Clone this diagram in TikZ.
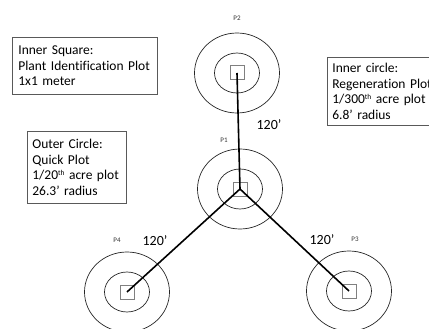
\documentclass[tikz,border=0pt]{standalone}
\usepackage{fontspec}
\setmainfont{Carlito}[Ligatures=CommonOff]
\usetikzlibrary{shapes.geometric}
\newcommand{\supth}{\raisebox{4.2pt}{\fontsize{7.5}{8}\selectfont th}}
\begin{document}
\begin{tikzpicture}[x=1pt,y=-1pt,
  outerc/.style={ellipse, draw=black!85, line width=0.7pt, minimum width=85pt, minimum height=80pt, inner sep=0pt},
  innerc/.style={ellipse, draw=black!85, line width=0.7pt, minimum width=45pt, minimum height=40pt, inner sep=0pt},
  sq/.style={rectangle, draw=black!50, line width=1pt, minimum size=14pt, inner sep=0pt},
  link/.style={line width=1.6pt, black},
  plab/.style={font=\fontsize{7}{8}\selectfont, text=black!80},
  dist/.style={font=\fontsize{14}{16}\selectfont},
  infobox/.style={draw=black!65, line width=0.7pt, align=left, inner ysep=0pt,
    font=\fontsize{13.5}{15.8}\selectfont, anchor=north west}]
\useasboundingbox (0,0) rectangle (429,329);
\clip (0,0) rectangle (429,329);
% plot centres
\foreach \n/\x/\y in {p1/240/189, p2/237/73, p3/349/291, p4/127/292}{
  \node[outerc] (\n o) at (\x,\y) {};
  \node[innerc] (\n i) at (\x,\y) {};
  \node[sq] (\n) at (\x,\y) {};
}
% connectors
\draw[link] (p1.center) -- (p2.center);
\draw[link] (p1.center) -- (p3.center);
\draw[link] (p1.center) -- (p4.center);
% plot labels
\node[plab] (l1) at (224,140) {P1};
\node[plab] (l2) at (237,18) {P2};
\node[plab] (l3) at (355,239) {P3};
\node[plab] (l4) at (117,240) {P4};
% distances
\node[dist] (d2) at (269,125) {120’};
\node[dist] (d4) at (155,241) {120’};
\node[dist] (d3) at (322,240) {120’};
% info boxes
\node[infobox, text width=133pt, inner xsep=6pt, minimum height=57pt] (sqbox) at (12,37)
  {Inner Square:\\Plant Identification Plot\\1x1 meter};
\node[infobox, text width=108pt, inner xsep=5pt, minimum height=68pt] (icbox) at (327,57)
  {Inner circle:\\Regeneration Plot\\1/300\supth{} acre plot\\6.8’ radius};
\node[infobox, text width=89pt, inner xsep=5pt, minimum height=72pt] (ocbox) at (27,131)
  {Outer Circle:\\Quick Plot\\1/20\supth{} acre plot\\26.3’ radius};
\end{tikzpicture}
\end{document}
